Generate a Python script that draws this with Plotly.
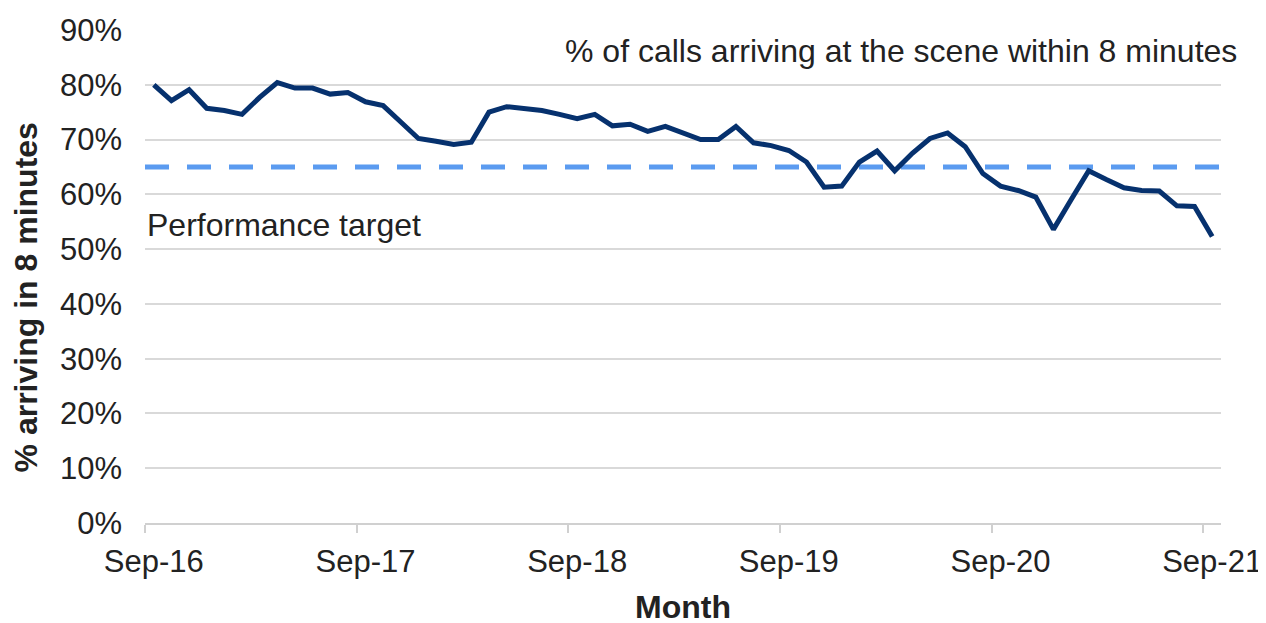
import plotly.graph_objects as go

months = ["Sep-16","Oct-16","Nov-16","Dec-16","Jan-17","Feb-17","Mar-17","Apr-17","May-17","Jun-17","Jul-17","Aug-17",
          "Sep-17","Oct-17","Nov-17","Dec-17","Jan-18","Feb-18","Mar-18","Apr-18","May-18","Jun-18","Jul-18","Aug-18",
          "Sep-18","Oct-18","Nov-18","Dec-18","Jan-19","Feb-19","Mar-19","Apr-19","May-19","Jun-19","Jul-19","Aug-19",
          "Sep-19","Oct-19","Nov-19","Dec-19","Jan-20","Feb-20","Mar-20","Apr-20","May-20","Jun-20","Jul-20","Aug-20",
          "Sep-20","Oct-20","Nov-20","Dec-20","Jan-21","Feb-21","Mar-21","Apr-21","May-21","Jun-21","Jul-21","Aug-21",
          "Sep-21"]
pct_8min = [80.0, 77.1, 79.1, 75.7, 75.3, 74.6, 77.7, 80.4, 79.4, 79.4, 78.3, 78.6,
            76.9, 76.2, 73.2, 70.2, 69.7, 69.1, 69.5, 75.0, 76.0, 75.6, 75.3, 74.6,
            73.8, 74.6, 72.5, 72.8, 71.5, 72.4, 71.3, 70.0, 70.0, 72.4, 69.4, 68.9,
            68.0, 65.9, 61.3, 61.5, 65.9, 67.9, 64.3, 67.5, 70.2, 71.2, 68.7, 63.8,
            61.5, 60.7, 59.5, 53.6, 59.0, 64.3, 62.7, 61.2, 60.7, 60.6, 57.9, 57.8,
            52.3]
target = 65.0
label_months = ["Sep-16", "Sep-17", "Sep-18", "Sep-19", "Sep-20", "Sep-21"]
y_ticks = [0, 10, 20, 30, 40, 50, 60, 70, 80, 90]

idx = list(range(len(months)))
label_idx = [months.index(m) for m in label_months]
fracs = [v / 100 for v in pct_8min]

fig = go.Figure()
fig.add_trace(go.Scatter(x=[-0.5, len(months) - 0.5], y=[target / 100] * 2, mode="lines",
                         line=dict(color="#5b9bf0", width=5, dash="24px,18px"),
                         hoverinfo="skip", showlegend=False))
fig.add_trace(go.Scatter(x=idx, y=fracs, mode="lines", text=months,
                         line=dict(color="#06316e", width=5),
                         hovertemplate="%{text}: %{y:.1%}<extra></extra>", showlegend=False))

font = "Liberation Sans, Arial, sans-serif"
txt = "#222222"
fig.update_layout(
    width=1266, height=623,
    margin=dict(l=137, r=53, t=22, b=108),
    paper_bgcolor="white", plot_bgcolor="white",
    font=dict(family=font, size=31, color=txt),
    xaxis=dict(
        range=[-0.5, len(months) - 0.5],
        tickvals=label_idx, ticktext=label_months,
        ticks="", showgrid=False,
        showline=True, linecolor="#d0d0d0", linewidth=2,
        ticklabelstandoff=10,
        tickfont=dict(size=31, color=txt),
        minor=dict(tickvals=[i - 0.5 for i in label_idx], ticks="outside", ticklen=8,
                   tickcolor="#d0d0d0", tickwidth=2, showgrid=False),
        title=dict(text="<b>Month</b>", font=dict(size=32, color=txt), standoff=17),
        zeroline=False,
        automargin=False,
    ),
    yaxis=dict(
        range=[0, 0.9],
        tickvals=[v / 100 for v in y_ticks], ticktext=[f"{v}%" for v in y_ticks],
        showgrid=True, gridcolor="#d9d9d9", gridwidth=1.5,
        showline=False, zeroline=False, ticks="",
        ticklabelstandoff=22,
        tickfont=dict(size=31, color=txt),
        automargin=False,
    ),
    annotations=[
        dict(text="<b>% arriving in 8 minutes</b>", xref="paper", yref="y",
             x=-0.111, y=0.411, xanchor="center", yanchor="middle", textangle=-90,
             showarrow=False, font=dict(size=32, color=txt)),
        dict(text="% of calls arriving at the scene within 8 minutes", xref="paper", yref="y",
             x=1.0167, y=0.861, xanchor="right", yanchor="middle", showarrow=False,
             font=dict(size=32, color=txt)),
        dict(text="Performance target", xref="paper", yref="y",
             x=0.0, y=0.544, xanchor="left", yanchor="middle", showarrow=False,
             font=dict(size=32, color=txt)),
    ],
)
fig.write_html("out.html")
